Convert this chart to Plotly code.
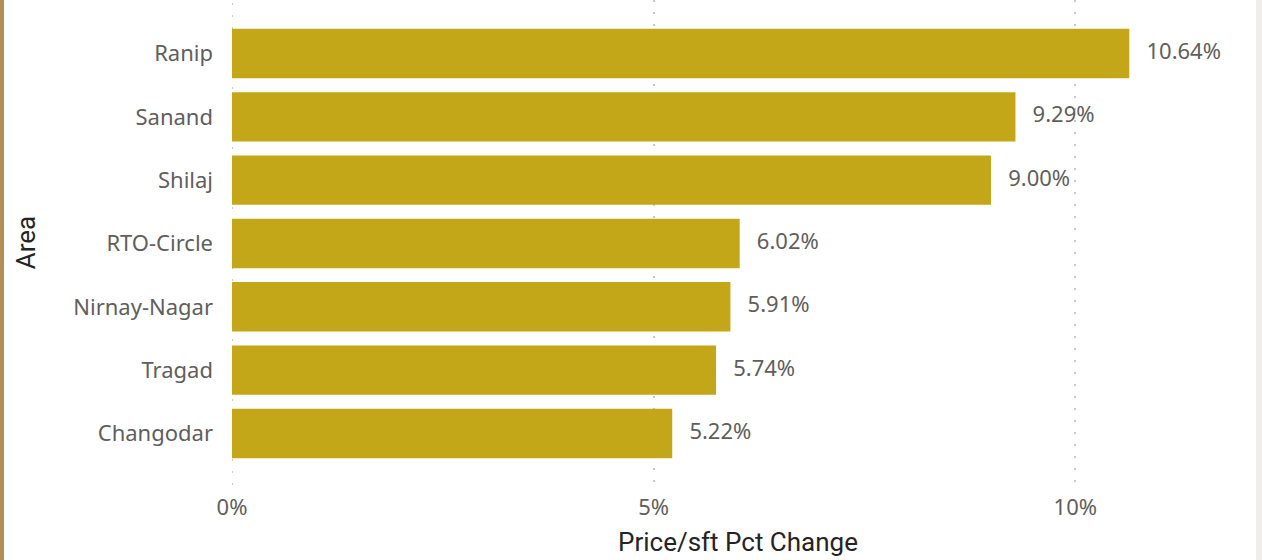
import plotly.graph_objects as go

areas = ["Changodar", "Tragad", "Nirnay-Nagar", "RTO-Circle", "Shilaj", "Sanand", "Ranip"]
pct_change = [5.22, 5.74, 5.91, 6.02, 9.00, 9.29, 10.64]
x_ticks = [0, 5, 10]
x_tick_labels = ["0%", "5%", "10%"]

BAR = "#C4A619"
GREY = "#605E5C"
GRID = "#C8C8C8"

fig = go.Figure()
fig.add_trace(go.Bar(
    x=pct_change, y=areas, orientation="h",
    marker=dict(color=BAR, line=dict(width=0)),
    width=0.78, hoverinfo="skip",
))
fig.add_trace(go.Scatter(
    x=pct_change, y=areas, mode="text",
    text=["   " + f"{v:.2f}%" for v in pct_change],
    textposition="middle right",
    textfont=dict(family="Noto Sans", size=22, color=GREY),
    cliponaxis=False, hoverinfo="skip", showlegend=False,
))

fig.update_layout(
    width=1262, height=560,
    margin=dict(l=232, r=18, t=0, b=75),
    paper_bgcolor="white", plot_bgcolor="white",
    showlegend=False,
    xaxis=dict(
        range=[0, 12], tickvals=x_ticks, ticktext=x_tick_labels,
        showgrid=True, gridcolor=GRID, griddash="2px,10px", gridwidth=2,
        zeroline=False, showline=False,
        tickfont=dict(family="Noto Sans", size=22, color=GREY),
        ticklabelstandoff=7,
        title=dict(text="Price/sft Pct Change", standoff=12,
                   font=dict(family="Roboto", size=26, color="#252423")),
    ),
    yaxis=dict(
        range=[-0.814, 6.845],
        showgrid=False, zeroline=False, showline=False,
        tickfont=dict(family="Noto Sans", size=22, color=GREY),
        ticklabelstandoff=18,
        title=dict(text="Area", standoff=30,
                   font=dict(family="Roboto", size=26, color="#252423")),
    ),
    shapes=[
        dict(type="line", xref="x", yref="paper", x0=x_ticks[0], x1=x_ticks[0],
             y0=0, y1=1, line=dict(color=GRID, width=2, dash="2px,10px"), layer="below"),
        dict(type="rect", xref="paper", yref="paper", x0=-232/1012, x1=-228/1012,
             y0=-75/485, y1=1, fillcolor="#B38F55", line=dict(width=0), layer="above"),
        dict(type="rect", xref="paper", yref="paper", x0=1+12/1012, x1=1+18/1012,
             y0=-75/485, y1=1, fillcolor="#F0EEEB", line=dict(width=0), layer="above"),
    ],
)

fig.write_html(
    "out.html",
    config={"displayModeBar": False},
    post_script="document.body.style.margin='0';document.body.style.overflow='hidden';",
)
